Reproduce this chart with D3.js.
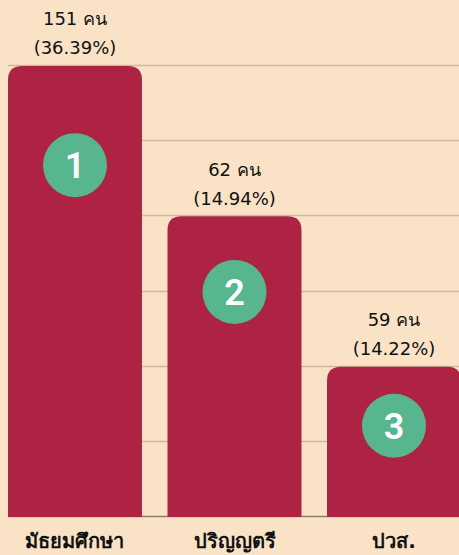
<!DOCTYPE html>
<html>
<head>
<meta charset="utf-8">
<script src="https://cdn.jsdelivr.net/npm/d3@7"></script>
<style>
    html, body { margin: 0; padding: 0; background: #f9e2c6; overflow: hidden; }
    .value-label { font-family: Tahoma, "DejaVu Sans", sans-serif; font-size: 18px; fill: #111; }
    .cat-label { font-family: Tahoma, "DejaVu Sans", sans-serif; font-size: 20px; font-weight: 600; fill: #111; }
    .rank-label { font-family: Roboto, "Liberation Sans", sans-serif; font-size: 36px; font-weight: 600; fill: #ffffff; }
</style>
</head>
<body>
<script>
    var categories = ["มัธยมศึกษา", "ปริญญตรี", "ปวส."];
    var counts = [151, 62, 59];
    var percents = ["36.39%", "14.94%", "14.22%"];
    var ranks = [1, 2, 3];
    // podium height of each bar (bars are drawn by rank, not by count)
    var podium = [3, 2, 1];
    var gridTicks = [0, 0.5, 1, 1.5, 2, 2.5, 3];

    var data = categories.map(function (c, i) {
        return { cat: c, count: counts[i], pct: percents[i], rank: ranks[i], h: podium[i] };
    });

    var width = 459, height = 555;
    var plot = { left: 8, right: 461, top: 66, bottom: 517 };
    var radius = 14;

    var x = d3.scaleBand()
        .domain(categories)
        .range([plot.left, plot.right])
        .paddingInner(0.16)
        .paddingOuter(0);

    var y = d3.scaleLinear()
        .domain([0, 3])
        .range([plot.bottom, plot.top]);

    // where the rank badge sits below the top of the bar, by bar height
    var badgeOffset = d3.scaleLinear()
        .domain([150, 300, 450])
        .range([59, 75.5, 99]);

    var svg = d3.select("body").append("svg")
        .attr("width", width)
        .attr("height", height);

    svg.append("g")
        .selectAll("line")
        .data(gridTicks)
        .enter()
        .append("line")
        .attr("x1", plot.left)
        .attr("x2", width)
        .attr("y1", function (d) { return Math.round(y(d)) - 0.5; })
        .attr("y2", function (d) { return Math.round(y(d)) - 0.5; })
        .attr("stroke", function (d) { return d === 0 ? "#8c8070" : "#cdb99c"; })
        .attr("stroke-width", 1.5);

    function barPath(d) {
        var x0 = x(d.cat), x1 = x0 + x.bandwidth();
        var y0 = y(d.h), y1 = y(0);
        return "M" + x0 + "," + y1 +
            "V" + (y0 + radius) +
            "Q" + x0 + "," + y0 + " " + (x0 + radius) + "," + y0 +
            "H" + (x1 - radius) +
            "Q" + x1 + "," + y0 + " " + x1 + "," + (y0 + radius) +
            "V" + y1 + "Z";
    }

    svg.selectAll(".bar")
        .data(data)
        .enter()
        .append("path")
        .attr("class", "bar")
        .attr("d", barPath)
        .attr("fill", "#ae2244");

    var cx = function (d) { return x(d.cat) + x.bandwidth() / 2; };
    var cy = function (d) { return y(d.h) + badgeOffset(y(0) - y(d.h)); };

    svg.selectAll(".badge")
        .data(data)
        .enter()
        .append("circle")
        .attr("class", "badge")
        .attr("cx", cx)
        .attr("cy", cy)
        .attr("r", 32)
        .attr("fill", "#57b68d");

    svg.selectAll(".rank-label")
        .data(data)
        .enter()
        .append("text")
        .attr("class", "rank-label")
        .attr("x", cx)
        .attr("y", cy)
        .attr("dy", "0.36em")
        .attr("text-anchor", "middle")
        .text(function (d) { return d.rank; });

    svg.selectAll(".count-label")
        .data(data)
        .enter()
        .append("text")
        .attr("class", "value-label")
        .attr("x", cx)
        .attr("y", function (d) { return y(d.h) - 47; })
        .attr("dy", "0.35em")
        .attr("text-anchor", "middle")
        .text(function (d) { return d.count + " คน"; });

    svg.selectAll(".pct-label")
        .data(data)
        .enter()
        .append("text")
        .attr("class", "value-label")
        .attr("x", cx)
        .attr("y", function (d) { return y(d.h) - 18; })
        .attr("dy", "0.35em")
        .attr("text-anchor", "middle")
        .text(function (d) { return "(" + d.pct + ")"; });

    svg.selectAll(".cat-label")
        .data(data)
        .enter()
        .append("text")
        .attr("class", "cat-label")
        .attr("x", cx)
        .attr("y", 541)
        .attr("dy", "0.35em")
        .attr("text-anchor", "middle")
        .text(function (d) { return d.cat; });
</script>
</body>
</html>
